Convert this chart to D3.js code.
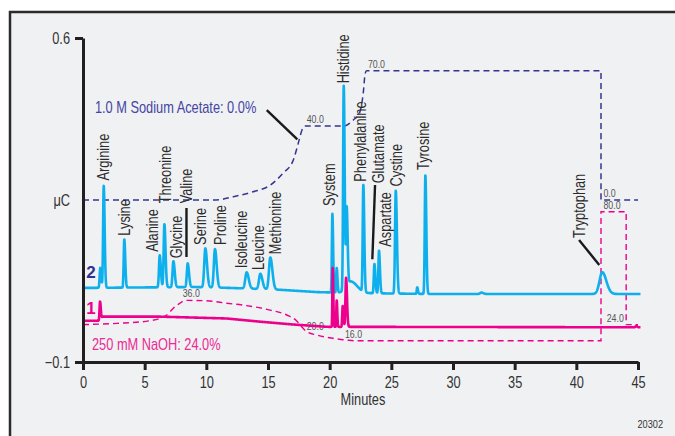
<!DOCTYPE html>
<html>
<head>
<meta charset="utf-8">
<script src="https://cdn.jsdelivr.net/npm/d3@7"></script>
<style>
  body { margin: 0; background: #fff; }
  svg text { font-family: "Liberation Sans", Arial, sans-serif; }
</style>
</head>
<body>
<div id="chart"></div>
<script>
// trace 2 (blue) - baseline and peak table (time in min, height in uC, width in min)
var blueBaseT = [0, 9, 12, 16, 19, 22, 28, 45.2];
var blueBaseV = [0.060, 0.062, 0.060, 0.056, 0.051, 0.049, 0.047, 0.047];
var bluePeakT = [1.40, 1.68, 3.35, 6.22, 6.60, 7.33, 8.49, 9.92, 10.70, 13.27, 14.38, 15.19,
                 20.22, 20.57, 21.14, 21.38, 21.70, 22.73, 23.63, 24.00, 25.36, 27.10, 27.76, 32.30, 42.10];
var bluePeakH = [0.043, 0.220, 0.104, 0.069, 0.136, 0.056, 0.051, 0.084, 0.083, 0.035, 0.033, 0.069,
                 0.170, 0.053, 0.440, 0.168, 0.025, 0.230, 0.063, 0.092, 0.222, 0.014, 0.256, 0.003, 0.047];
var bluePeakW = [0.05, 0.05, 0.05, 0.06, 0.06, 0.07, 0.07, 0.09, 0.09, 0.11, 0.11, 0.11,
                 0.04, 0.04, 0.05, 0.05, 0.35, 0.05, 0.05, 0.05, 0.06, 0.04, 0.05, 0.10, 0.22];

// trace 1 (magenta)
var pinkBaseT = [0, 1.25, 1.6, 6.2, 9, 11.65, 14.4, 17.05, 19.8, 45.2];
var pinkBaseV = [-0.011, -0.011, -0.002, -0.002, -0.004, -0.006, -0.013, -0.019, -0.024, -0.025];
var pinkPeakT = [1.38, 20.25, 20.57, 21.06, 21.33, 44.85];
var pinkPeakH = [0.038, 0.127, 0.057, 0.045, 0.106, 0.003];
var pinkPeakW = [0.04, 0.03, 0.03, 0.04, 0.05, 0.05];

// gradients (%)
var acetateT = [0, 10.8, 12.2, 13.8, 15.2, 16.2, 17.05, 17.45, 17.75, 18.0, 21.1, 21.9, 22.45, 22.72, 22.88, 23.0, 42.0, 42.0, 45.0];
var acetateP = [0, 0, 1.8, 4.5, 8.1, 14.4, 21.6, 30.6, 37.8, 40, 40, 43.2, 47.7, 57.7, 68.5, 70, 70, 0, 0];
var naohT = [0, 2.76, 5.43, 6.79, 7.32, 7.87, 8.3, 10.0, 11.65, 13.27, 15.16, 16.52, 17.33, 17.73, 18.14, 18.95, 20.27, 21.38, 22.0, 42.0, 42.0, 44.04, 44.04, 45.0];
var naohP = [24, 24.6, 25.9, 28.75, 32.1, 34.6, 36, 35.8, 34.6, 33.4, 31.2, 28.75, 25.8, 22.9, 20.5, 18.8, 17.2, 16.3, 16, 16, 80, 80, 24, 24];

var acetateLabels = ["40.0", "70.0", "0.0"];
var acetateLabelT = [18.14, 23.1, 42.2];
var acetateLabelP = [40, 70, 0];
var naohLabels = ["36.0", "20.0", "16.0", "80.0", "24.0"];
var naohLabelT = [8.08, 18.14, 21.24, 42.2, 42.46];
var naohLabelP = [36, 20, 16, 80, 24];

// peak names
var peakNames = ["Arginine", "Lysine", "Alanine", "Threonine", "Glycine", "Valine", "Serine", "Proline",
                 "Isoleucine", "Leucine", "Methionine", "System", "Histidine", "Phenylalanine", "Glutamate",
                 "Aspartate", "Cystine", "Tyrosine", "Tryptophan"];
var labelT = [1.65, 3.35, 5.65, 6.65, 7.54, 8.41, 9.49, 11.11, 12.87, 14.20, 15.57, 19.97, 21.10, 22.46, 23.94, 24.49, 25.36, 27.60, 40.22];
var labelV = [0.292, 0.173, 0.138, 0.243, 0.124, 0.243, 0.153, 0.153, 0.1025, 0.099, 0.133, 0.237, 0.502, 0.2895, 0.286, 0.149, 0.279, 0.315, 0.168];

// leader lines [t1, v1, t2, v2]
var leaders = [
  [8.39, 0.2327, 8.39, 0.1269],
  [23.68, 0.2824, 23.46, 0.1219],
  [14.9, 0.4444, 17.38, 0.3811],
  [40.22, 0.1636, 41.86, 0.1096]
];

var xTicks = [0, 5, 10, 15, 20, 25, 30, 35, 40, 45];
var yTicks = [-0.1, 0.6];

var width = 675, height = 436;
var margin = {top: 38, left: 83};
var w = 555, h = 324;
var squeeze = 0.8;   // condensed look
var fs = 16;

var svg = d3.select('#chart').append('svg')
  .attr('width', width)
  .attr('height', height);

svg.append('rect')
  .attr('x', 10).attr('y', 12)
  .attr('width', 700).attr('height', 460)
  .attr('fill', '#f0f1f3')
  .attr('stroke', '#2b2b2b')
  .attr('stroke-width', 2.5);

var g = svg.append('g')
  .attr('transform', 'translate(' + margin.left + ',' + margin.top + ')');

var x = d3.scaleLinear().domain([0, 45]).range([0, w]);
var y = d3.scaleLinear().domain([-0.1, 0.6]).range([h, 0]);
var yAcetate = d3.scaleLinear().domain([0, 70]).range([y(0.25), y(0.25) - 129.3]);
var yNaoh = d3.scaleLinear().domain([16, 80]).range([302.7, 173.7]);

function at(px, py) {
  return 'translate(' + px + ',' + py + ') scale(' + squeeze + ',1)';
}

function buildTrace(baseT, baseV, pT, pH, pW) {
  var base = d3.scaleLinear().domain(baseT).range(baseV);
  var pts = [];
  for (var i = 0; i <= 4520; i++) {
    var t = i / 100;
    var v = base(t);
    for (var k = 0; k < pT.length; k++) {
      var s = t < pT[k] ? pW[k] : pW[k] * 1.5;
      var d = (t - pT[k]) / s;
      if (Math.abs(d) < 8) v += pH[k] * Math.exp(-0.5 * d * d);
    }
    pts.push([t, v]);
  }
  return pts;
}

var blueData = buildTrace(blueBaseT, blueBaseV, bluePeakT, bluePeakH, bluePeakW);
var pinkData = buildTrace(pinkBaseT, pinkBaseV, pinkPeakT, pinkPeakH, pinkPeakW);

// gradients
var acetateLine = d3.line()
  .x(function(d, i) { return x(acetateT[i]); })
  .y(function(d) { return yAcetate(d); })
  .curve(d3.curveMonotoneX);
var naohLine = d3.line()
  .x(function(d, i) { return x(naohT[i]); })
  .y(function(d) { return yNaoh(d); })
  .curve(d3.curveMonotoneX);

g.append('path')
  .attr('d', acetateLine(acetateP))
  .attr('fill', 'none')
  .attr('stroke', '#35358f')
  .attr('stroke-width', 1.5)
  .attr('stroke-dasharray', '6,4');

g.append('path')
  .attr('d', naohLine(naohP))
  .attr('fill', 'none')
  .attr('stroke', '#ec008c')
  .attr('stroke-width', 1.4)
  .attr('stroke-dasharray', '6,4');

g.selectAll('.glabA')
  .data(acetateLabels)
  .enter().append('text')
  .attr('transform', function(d, i) { return at(x(acetateLabelT[i]), yAcetate(acetateLabelP[i]) - 3); })
  .attr('font-size', 11)
  .attr('fill', '#555')
  .text(function(d) { return d; });

g.selectAll('.glabN')
  .data(naohLabels)
  .enter().append('text')
  .attr('transform', function(d, i) { return at(x(naohLabelT[i]), yNaoh(naohLabelP[i]) - 3); })
  .attr('font-size', 11)
  .attr('fill', '#555')
  .text(function(d) { return d; });

// traces
var traceLine = d3.line()
  .x(function(d) { return x(d[0]); })
  .y(function(d) { return y(d[1]); });

g.append('path')
  .attr('d', traceLine(blueData))
  .attr('fill', 'none')
  .attr('stroke', '#0db0ec')
  .attr('stroke-width', 2.6)
  .attr('stroke-linejoin', 'round');

g.append('path')
  .attr('d', traceLine(pinkData))
  .attr('fill', 'none')
  .attr('stroke', '#ec008c')
  .attr('stroke-width', 2.6)
  .attr('stroke-linejoin', 'round');

// leader lines
g.selectAll('.leader')
  .data(leaders)
  .enter().append('line')
  .attr('x1', function(d) { return x(d[0]); })
  .attr('y1', function(d) { return y(d[1]); })
  .attr('x2', function(d) { return x(d[2]); })
  .attr('y2', function(d) { return y(d[3]); })
  .attr('stroke', '#1a1a1a')
  .attr('stroke-width', 2.4);

// peak labels
g.selectAll('.plabel')
  .data(peakNames)
  .enter().append('text')
  .attr('transform', function(d, i) {
    return 'translate(' + x(labelT[i]) + ',' + y(labelV[i]) + ') rotate(-90) scale(' + squeeze + ',1)';
  })
  .attr('dy', '0.36em')
  .attr('font-size', fs)
  .attr('fill', '#2b2b2b')
  .text(function(d) { return d; });

// axes
var xAxis = g.append('g')
  .attr('transform', 'translate(0,' + h + ')')
  .call(d3.axisBottom(x).tickValues(xTicks).tickSize(8).tickSizeOuter(0).tickPadding(7));
var yAxis = g.append('g')
  .call(d3.axisLeft(y).tickValues(yTicks).tickFormat(d3.format('.1f')).tickSize(8).tickSizeOuter(0).tickPadding(5));

[xAxis, yAxis].forEach(function(a) {
  a.select('.domain').attr('stroke', '#231f20').attr('stroke-width', 3);
  a.selectAll('.tick line').attr('stroke', '#231f20').attr('stroke-width', 3);
  a.selectAll('.tick text')
    .attr('font-size', fs)
    .attr('fill', '#333')
    .style('font-family', '"Liberation Sans", Arial, sans-serif');
});
xAxis.selectAll('.tick text').attr('transform', 'scale(' + squeeze + ',1)');
yAxis.selectAll('.tick text')
  .attr('x', -13 / squeeze)
  .attr('transform', 'scale(' + squeeze + ',1)');

g.append('text')
  .attr('transform', at(-13, y(0.25)))
  .attr('dy', '0.35em')
  .attr('text-anchor', 'end')
  .attr('font-size', fs)
  .attr('fill', '#333')
  .text('\u03bcC');

g.append('text')
  .attr('transform', at(x(22.7), h + 43))
  .attr('text-anchor', 'middle')
  .attr('font-size', fs)
  .attr('fill', '#333')
  .text('Minutes');

// trace numbers and gradient captions
g.append('text')
  .attr('x', 8).attr('y', y(0.094))
  .attr('dy', '0.35em')
  .attr('text-anchor', 'middle')
  .attr('font-size', 17).attr('font-weight', 'bold')
  .attr('fill', '#2e3192')
  .text('2');

g.append('text')
  .attr('x', 8).attr('y', y(0.017))
  .attr('dy', '0.35em')
  .attr('text-anchor', 'middle')
  .attr('font-size', 17).attr('font-weight', 'bold')
  .attr('fill', '#ec008c')
  .text('1');

g.append('text')
  .attr('transform', at(x(0.97), y(0.45)))
  .attr('dy', '0.35em')
  .attr('font-size', fs)
  .attr('fill', '#4545a2')
  .text('1.0 M Sodium Acetate: 0.0%');

g.append('text')
  .attr('transform', at(x(0.73), y(-0.063)))
  .attr('dy', '0.35em')
  .attr('font-size', fs)
  .attr('fill', '#ec2a94')
  .text('250 mM NaOH: 24.0%');

svg.append('text')
  .attr('transform', at(663, 428))
  .attr('text-anchor', 'end')
  .attr('font-size', 11.5)
  .attr('fill', '#333')
  .text('20302');
</script>
</body>
</html>
